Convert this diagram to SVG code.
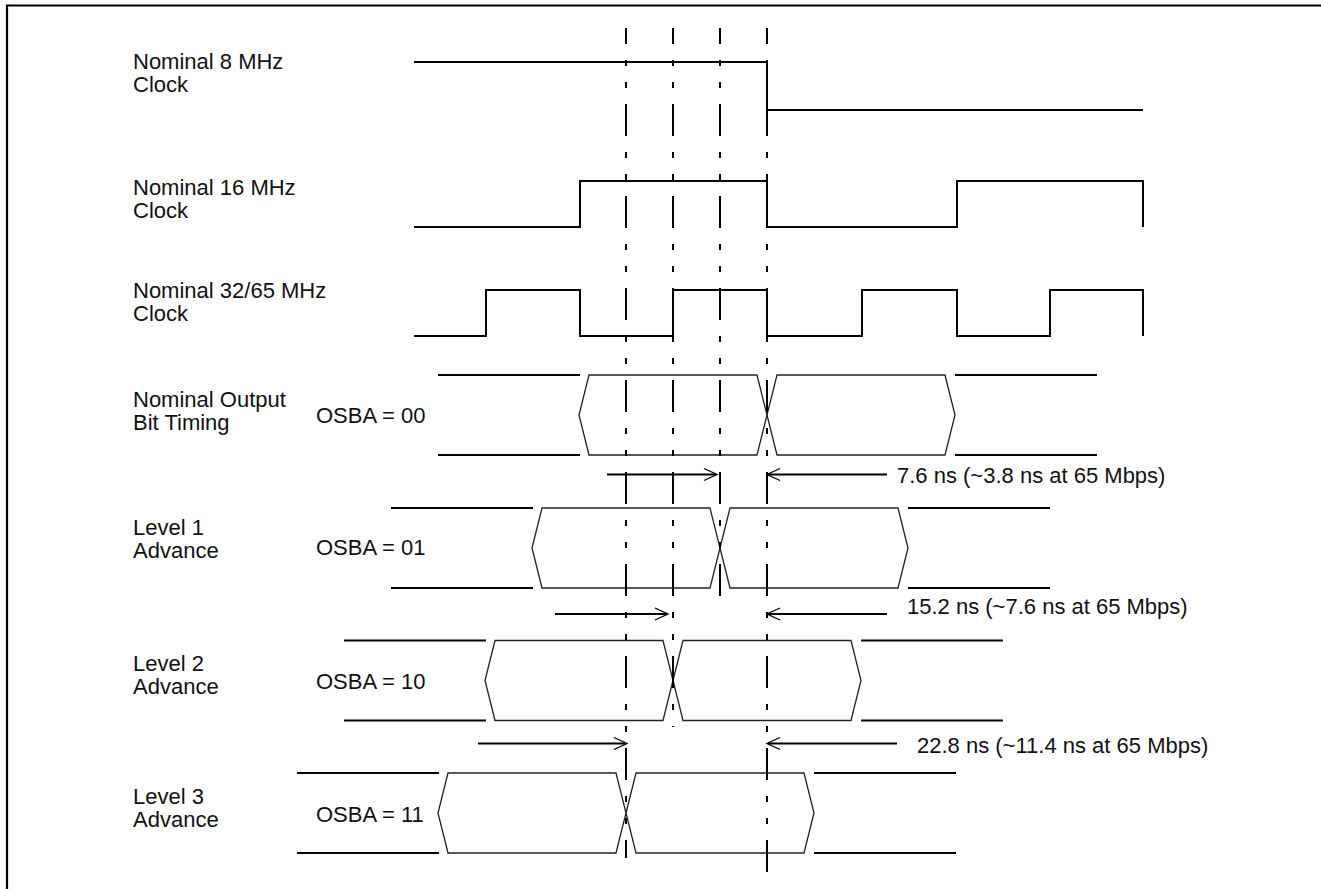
<svg xmlns="http://www.w3.org/2000/svg" width="1321" height="889" viewBox="0 0 1321 889">
<style>
.t{font-family:"Liberation Sans",Arial,sans-serif;font-size:22px;fill:#111}
.clk{fill:none;stroke:#000;stroke-width:2}
.hl{fill:none;stroke:#000;stroke-width:2}
.hex{fill:none;stroke:#222;stroke-width:1.3}
.guide{fill:none;stroke:#000;stroke-width:2;stroke-dasharray:32 16 6 16 6 16;stroke-dashoffset:16}
.arr{fill:none;stroke:#000;stroke-width:1.8}
.ah{fill:none;stroke:#000;stroke-width:1.3}
</style>
<rect width="1321" height="889" fill="#fff"/>
<path d="M7,889 V5.5 H1321" fill="none" stroke="#000" stroke-width="2.2"/>

<g id="clk8">
<text class="t" x="133" y="69">Nominal 8 MHz</text>
<text class="t" x="133" y="92">Clock</text>
<path class="clk" d="M414,62 H767 V110 H1143"/>
</g>

<g id="clk16">
<text class="t" x="133" y="195">Nominal 16 MHz</text>
<text class="t" x="133" y="218">Clock</text>
<path class="clk" d="M414,227 H580 V181 H767 V227 H957 V181 H1143 V227"/>
</g>

<g id="clk32">
<text class="t" x="133" y="298">Nominal 32/65 MHz</text>
<text class="t" x="133" y="321">Clock</text>
<path class="clk" d="M414,336 H486 V290 H580 V336 H673 V290 H767 V336 H862 V290 H957 V336 H1050 V290 H1143 V336"/>
</g>

<g id="osba00">
<text class="t" x="133" y="406.5">Nominal Output</text>
<text class="t" x="133" y="430">Bit Timing</text>
<text class="t" x="316" y="423">OSBA = 00</text>
<path class="hl" d="M438,375 H580 M438,455 H580 M955,375 H1097 M955,455 H1097"/>
<polygon class="hex" points="579,415 589,375 757,375 767,415 757,455 589,455"/>
<polygon class="hex" points="767,415 777,375 945,375 955,415 945,455 777,455"/>
</g>

<g id="osba01">
<text class="t" x="133" y="535">Level 1</text>
<text class="t" x="133" y="558">Advance</text>
<text class="t" x="316" y="555">OSBA = 01</text>
<path class="hl" d="M391,508 H533 M391,588 H533 M908,508 H1050 M908,588 H1050"/>
<polygon class="hex" points="532,548 542,508 710,508 720,548 710,588 542,588"/>
<polygon class="hex" points="720,548 730,508 898,508 908,548 898,588 730,588"/>
</g>

<g id="osba10">
<text class="t" x="133" y="671">Level 2</text>
<text class="t" x="133" y="694">Advance</text>
<text class="t" x="316" y="689">OSBA = 10</text>
<path class="hl" d="M344,640.5 H486 M344,720.5 H486 M861,640.5 H1003 M861,720.5 H1003"/>
<polygon class="hex" points="485,680.5 495,640.5 663,640.5 673,680.5 663,720.5 495,720.5"/>
<polygon class="hex" points="673,680.5 683,640.5 851,640.5 861,680.5 851,720.5 683,720.5"/>
</g>

<g id="osba11">
<text class="t" x="133" y="804">Level 3</text>
<text class="t" x="133" y="827">Advance</text>
<text class="t" x="316" y="822">OSBA = 11</text>
<path class="hl" d="M297,773 H439 M297,853 H439 M814,773 H956 M814,853 H956"/>
<polygon class="hex" points="438,813 448,773 616,773 626,813 616,853 448,853"/>
<polygon class="hex" points="626,813 636,773 804,773 814,813 804,853 636,853"/>
</g>

<g id="guides">
<line class="guide" x1="626" y1="28" x2="626" y2="858"/>
<line class="guide" x1="673" y1="28" x2="673" y2="727"/>
<line class="guide" x1="720" y1="28" x2="720" y2="596"/>
<line class="guide" x1="767" y1="28" x2="767" y2="876"/>
</g>

<g id="connectors">
<line class="arr" x1="607" y1="474.5" x2="716" y2="474.5"/>
<path class="ah" d="M704,468.5 L717,474.5 L704,480.5"/>
<line class="arr" x1="768" y1="474.5" x2="887" y2="474.5"/>
<path class="ah" d="M780,468.5 L767,474.5 L780,480.5"/>

<line class="arr" x1="555" y1="614" x2="667" y2="614"/>
<path class="ah" d="M655,608 L668,614 L655,620"/>
<line class="arr" x1="768" y1="614" x2="887" y2="614"/>
<path class="ah" d="M780,608 L767,614 L780,620"/>

<line class="arr" x1="478" y1="743.5" x2="625" y2="743.5"/>
<path class="ah" d="M614,737.5 L627,743.5 L614,749.5"/>
<line class="arr" x1="768" y1="743.5" x2="897" y2="743.5"/>
<path class="ah" d="M780,737.5 L767,743.5 L780,749.5"/>
</g>

<g id="labels">
<text class="t" x="897" y="483">7.6 ns (~3.8 ns at 65 Mbps)</text>
<text class="t" x="907" y="614">15.2 ns (~7.6 ns at 65 Mbps)</text>
<text class="t" x="917" y="753">22.8 ns (~11.4 ns at 65 Mbps)</text>
</g>
</svg>
